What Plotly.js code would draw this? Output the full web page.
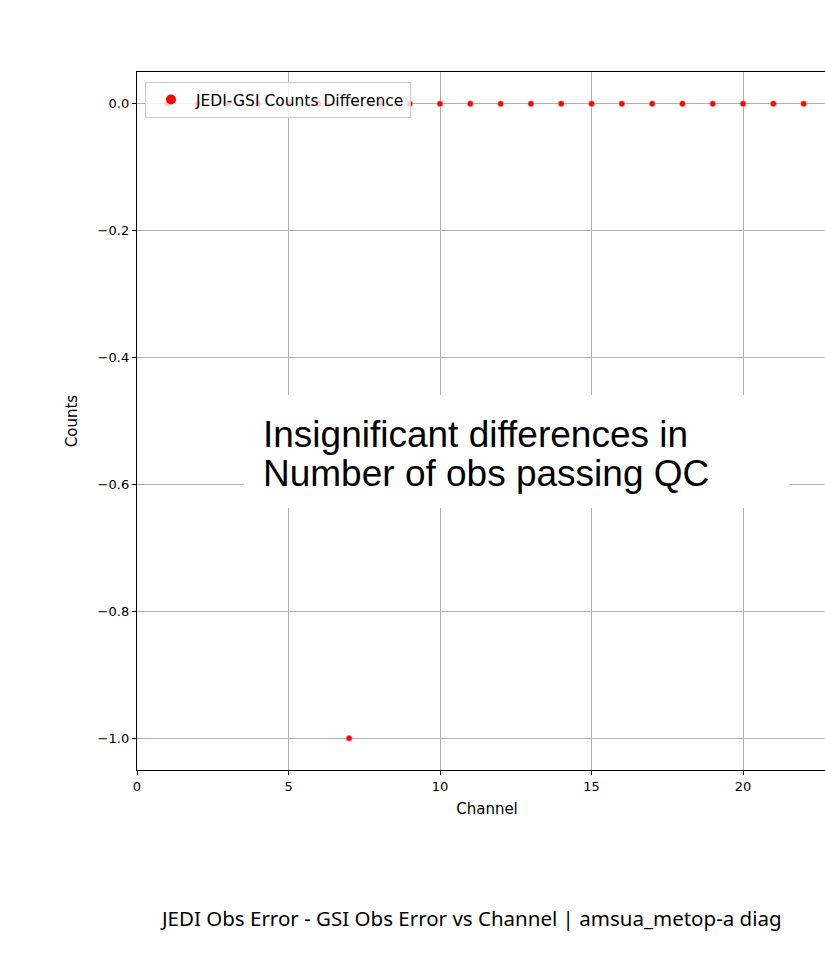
<!DOCTYPE html>
<html>
<head>
<meta charset="utf-8">
<script src="https://cdn.plot.ly/plotly-3.0.1.min.js"></script>
<style>
html,body{margin:0;padding:0;overflow:hidden;background:#fff;}
#chart{width:840px;height:976px;}
</style>
</head>
<body>
<div id="chart"></div>
<script>
// Data
const channels = [1,2,3,4,5,6,7,8,9,10,11,12,13,14,15,16,17,18,19,20,21,22];
const countsDiff = [0,0,0,0,0,0,-1,0,0,0,0,0,0,0,0,0,0,0,0,0,0,0];
const seriesName = 'JEDI-GSI Counts Difference';
const xTicks = [0,5,10,15,20];
const yTicks = [0,-0.2,-0.4,-0.6,-0.8,-1.0];
const captionText = 'JEDI Obs Error - GSI Obs Error vs Channel | amsua_metop-a diag';
const noteLine1 = 'Insignificant differences in';
const noteLine2 = 'Number of obs passing QC';

const W = 840, H = 976;
const L = 137, T = 72, R = 3, B = 206;
const pw = W - L - R, ph = H - T - B;
const px = v => (v - L) / pw;
const py = v => 1 - (v - T) / ph;

const traces = [
  {
    x: channels, y: countsDiff, type: 'scatter', mode: 'markers',
    name: seriesName, showlegend: false,
    marker: {color: 'red', size: 6, line: {color: 'rgba(255,170,170,1)', width: 0.6}}
  },
  {
    x: [null], y: [null], type: 'scatter', mode: 'markers',
    name: seriesName, showlegend: true,
    marker: {color: 'red', size: 10}
  }
];

const tickFont = {family: 'DejaVu Sans', size: 13, color: '#000'};
const titleFont = {family: 'DejaVu Sans', size: 15, color: '#000'};

const layout = {
  width: W, height: H,
  margin: {l: L, r: R, t: T, b: B, pad: 0},
  paper_bgcolor: '#fff', plot_bgcolor: '#fff',
  showlegend: true,
  font: tickFont,
  xaxis: {
    range: [0, 23.1], tickvals: xTicks, ticktext: xTicks.map(String),
    showgrid: true, gridcolor: '#b0b0b0', gridwidth: 1,
    zeroline: false, showline: true, linecolor: '#000', linewidth: 1.2, mirror: true,
    ticks: 'outside', ticklen: 4, tickcolor: '#000', tickwidth: 1,
    tickfont: tickFont,
    title: {text: 'Channel', font: titleFont, standoff: 10}
  },
  yaxis: {
    range: [-1.05, 0.05], tickvals: yTicks, tickformat: '.1f',
    showgrid: true, gridcolor: '#b0b0b0', gridwidth: 1,
    zeroline: false, showline: true, linecolor: '#000', linewidth: 1.2, mirror: true,
    ticks: 'outside', ticklen: 4, tickcolor: '#000', tickwidth: 1,
    tickfont: tickFont,
    title: {text: 'Counts', font: titleFont, standoff: 16}
  },
  legend: {
    x: px(145), y: py(82), xanchor: 'left', yanchor: 'top',
    bgcolor: 'rgba(255,255,255,0.8)', bordercolor: '#cccccc', borderwidth: 1,
    font: {family: 'DejaVu Sans', size: 15.5, color: '#000'},
    itemwidth: 40, tracegroupgap: 0
  },
  shapes: [
    {type: 'rect', xref: 'paper', yref: 'paper', layer: 'above',
     x0: px(244), x1: px(789), y0: py(508), y1: py(395),
     fillcolor: '#fff', line: {width: 0}}
  ],
  annotations: [
    {xref: 'paper', yref: 'paper', x: px(261), y: py(434), xanchor: 'left', yanchor: 'middle',
     text: noteLine1, showarrow: false, align: 'left',
     font: {family: 'Liberation Sans', size: 37, color: '#000'}},
    {xref: 'paper', yref: 'paper', x: px(261), y: py(473), xanchor: 'left', yanchor: 'middle',
     text: noteLine2, showarrow: false, align: 'left',
     font: {family: 'Liberation Sans', size: 37, color: '#000'}},
    {xref: 'paper', yref: 'paper', x: px(471), y: py(918), xanchor: 'center', yanchor: 'middle',
     text: captionText, showarrow: false,
     font: {family: 'Noto Sans', size: 20.5, color: '#000'}}
  ]
};

Plotly.newPlot('chart', traces, layout, {displayModeBar: false, staticPlot: true});
</script>
</body>
</html>
